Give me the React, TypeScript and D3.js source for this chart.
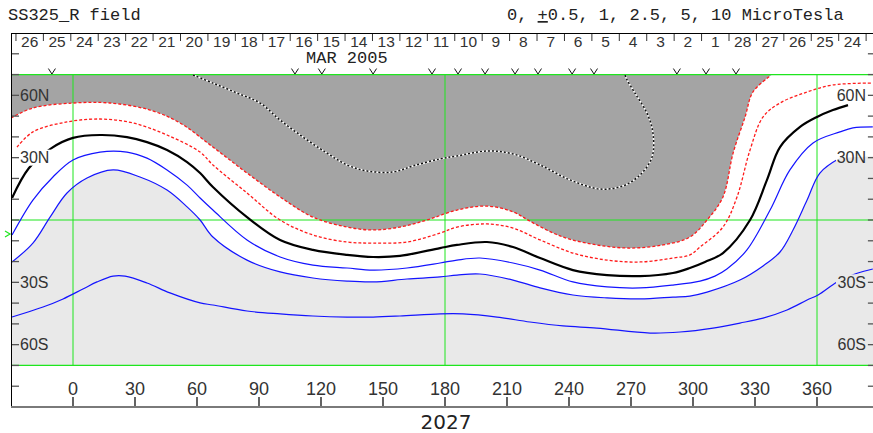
import * as d3 from "d3";

const W = 873;
const H = 433;

// contour lines, [longitude, latitude]
const outerRed: [number, number][] = [
  [-30, 49.1], [-19.4, 53.9], [0, 56.3], [17.9, 56.3], [37.3, 52.9], [51.8, 46.7],
  [67.7, 35.1], [84.2, 22.6], [100.2, 11.1], [116.1, 1.4], [132.6, -3.4], [145.2, -4.8],
  [158.2, -3.4], [171.3, 0], [185.8, 4.8], [200.3, 6.7], [212.9, 3.9], [222.6, -1.4],
  [237.1, -8.2], [253.5, -12.0], [269.5, -13.5], [285.5, -12.0], [298.5, -8.2],
  [306.8, 0], [314.5, 11.1], [319.4, 32.2], [325.2, 49.6], [329.0, 61.6], [337.3, 69.3],
];
const innerRed: [number, number][] = [
  [-27.1, 35.1], [-19.4, 42.4], [-2.9, 47.2], [13.1, 48.6], [29.0, 46.7], [45.5, 40.9],
  [61.5, 32.7], [67.7, 26.5], [84.2, 13.0], [100.2, 0], [116.1, -7.2], [132.6, -10.6],
  [145.2, -11.1], [161.6, -10.6], [177.6, -6.3], [185.8, -3.4], [200.3, -1.9],
  [212.9, -3.9], [226.0, -9.6], [241.9, -15.9], [258.4, -19.3], [274.4, -20.2],
  [290.3, -18.3], [298.5, -16.8], [303.4, -13.0], [314.5, -3.4], [321.3, 11.1],
  [327.6, 33.7], [333.9, 49.6], [342.1, 56.3], [355.2, 61.6], [367.7, 65.0], [387, 65.9],
];
const neutral: [number, number][] = [
  [-29.5, 10.6], [-21.3, 25.0], [-10.2, 34.7], [0, 39.5], [13.1, 40.9], [26.1, 39.9],
  [35.8, 37.5], [45.5, 33.7], [55.2, 27.9], [61.5, 22.6], [67.7, 15.9], [84.2, 1.4],
  [100.2, -9.6], [116.1, -14.4], [132.6, -16.8], [145.2, -17.8], [158.2, -17.3],
  [177.6, -13.5], [185.8, -12.0], [200.3, -10.6], [212.9, -13.0], [226.0, -18.3],
  [241.9, -24.1], [258.4, -26.5], [274.4, -27.0], [290.3, -25.5], [298.5, -23.1],
  [305.8, -20.2], [314.5, -15.9], [327.6, 0], [335.8, 19.3], [342.1, 35.1],
  [351.8, 44.8], [360, 49.6], [367.7, 52.9], [375.0, 55.3],
];
const blue1: [number, number][] = [
  [-29.5, -7.2], [-19.4, 9.6], [-9.7, 20.7], [0, 28.9], [13.1, 32.7], [26.1, 32.7],
  [35.8, 29.8], [45.5, 24.1], [55.2, 16.8], [61.5, 10.6], [67.7, 4.8], [84.2, -9.6],
  [100.2, -17.8], [116.1, -21.7], [132.6, -23.1], [145.2, -24.1], [161.6, -23.1],
  [177.6, -20.7], [185.8, -19.3], [196.9, -18.3], [212.9, -20.7], [226.0, -24.1],
  [241.9, -29.8], [258.4, -32.2], [274.4, -32.7], [290.3, -31.3], [303.4, -29.4],
  [310.6, -27.0], [316.4, -23.6], [326.1, -14.4], [337.3, 4.8], [346.9, 24.1],
  [358.1, 37.1], [371.1, 42.4], [377.4, 44.3], [387, 44.8],
];
const blue2: [number, number][] = [
  [-29.5, -20.2], [-19.4, -11.1], [-11.1, 1.4], [-2.9, 13.0], [6.8, 20.2], [19.4, 24.1],
  [32.4, 20.7], [45.5, 14.4], [55.2, 6.3], [61.5, 0], [67.7, -8.2], [84.2, -19.3],
  [100.2, -25.0], [116.1, -27.9], [132.6, -29.4], [145.2, -29.8], [161.6, -28.4],
  [177.6, -27.4], [185.8, -26.5], [196.9, -26.0], [212.9, -28.9], [226.0, -32.7],
  [241.9, -36.1], [258.4, -37.5], [274.4, -38.0], [290.3, -37.1], [298.5, -36.6],
  [306.8, -34.7], [322.7, -28.9], [333.9, -22.1], [342.1, -15.4], [348.4, -4.8],
  [355.2, 9.6], [361.4, 22.6], [371.1, 29.8],
];
const blue3: [number, number][] = [
  [-29.5, -46.7], [-14.5, -41.9], [-4.8, -38.0], [4.8, -33.2], [11.6, -29.8],
  [19.4, -27.0], [25.2, -27.0], [35.8, -30.3], [46.9, -35.1], [61.5, -39.9],
  [67.7, -40.9], [84.2, -43.8], [100.2, -45.2], [116.1, -46.2], [132.6, -46.7],
  [145.2, -46.7], [158.2, -46.2], [177.6, -45.2], [188.7, -45.2], [205.2, -46.7],
  [221.1, -49.1], [237.1, -51.0], [253.5, -52.0], [279.2, -54.4], [293.7, -53.9],
  [309.7, -52.0], [322.7, -49.6], [333.9, -47.2], [345.5, -43.3], [355.2, -38.5],
  [360.5, -36.1], [369.7, -29.8], [375.0, -27.4], [379.8, -25.5], [387.0, -23.6],
];
const zeroLine: [number, number][] = [
  [58.1, 69.8], [67.7, 65.9], [79.4, 61.1], [90.5, 56.3], [100.2, 48.1], [111.3, 39.9],
  [122.9, 32.2], [132.6, 26.5], [142.3, 23.6], [154.8, 23.1], [164.5, 26.0],
  [177.6, 29.4], [185.8, 30.8], [200.3, 33.2], [212.9, 31.8], [226.0, 26.5],
  [240.5, 19.3], [255.0, 14.9], [266.1, 16.4], [274.4, 21.7], [280.2, 30.3],
  [280.6, 41.9], [277.7, 51.5], [271.9, 61.1], [268.1, 67.4], [267.1, 69.8],
];

const lonTicks = [0, 30, 60, 90, 120, 150, 180, 210, 240, 270, 300, 330, 360];
const latTicks = [-80, -70, -60, -50, -40, -30, -20, -10, 0, 10, 20, 30, 40, 50, 60, 70, 80];
const latLabelValues = [60, 30, -30, -60];
const latLabelText = ["60N", "30N", "30S", "60S"];
const gridLons = [0, 180, 360];
const gridLats = [70, 0, -70];
const dayLabels = [
  "26", "25", "24", "23", "22", "21", "20", "19", "18", "17", "16", "15", "14", "13",
  "12", "11", "10", "9", "8", "7", "6", "5", "4", "3", "2", "1", "28", "27", "26", "25", "24",
];
const firstDayLon = -27.6;
const degPerDay = 13.27;
const footLons = [-10.2, 107.4, 120.4, 145.2, 173.7, 186.3, 199.4, 213.9, 225.0, 241.5, 252.1, 292.2, 306.3, 320.8];
const subEarthLat = -6.7;

const x = d3.scaleLinear().domain([-30, 360]).range([11, 817]);
const y = d3.scaleLinear().domain([90, -90]).range([33, 407]);
const lonMax = 388.5;
const xR = x(lonMax);

const line = d3
  .line<[number, number]>()
  .x((d) => x(d[0]))
  .y((d) => y(d[1]))
  .curve(d3.curveCatmullRom.alpha(0.5));

const sans = "'Liberation Sans', Arial, sans-serif";
const mono = "'Liberation Mono', 'Courier New', monospace";
const green = "#1ee61e";

const App = () => {
  const darkFill =
    line(outerRed) +
    `L${x(outerRed[outerRed.length - 1][0] + 1)},${y(70)}L${x(-30)},${y(70)}Z`;
  const lastB2 = blue2[blue2.length - 1];
  const lightFill =
    line(blue2) +
    `L${xR},${y(lastB2[1] + 1)}L${xR},${y(-70)}L${x(-30)},${y(-70)}L${x(-30)},${y(blue2[0][1])}Z`;

  const labelBoxes = latLabelValues.flatMap((lat) => [
    { x0: 18, x1: 53, y0: y(lat) - 8, y1: y(lat) + 8 },
    { x0: 836, x1: 867, y0: y(lat) - 8, y1: y(lat) + 8 },
  ]);

  return (
    <svg width={W} height={H} style={{ display: "block", position: "absolute", left: 0, top: 0 }}>
      <defs>
        <clipPath id="plot">
          <rect x={11} y={33} width={xR - 11} height={374} />
        </clipPath>
        <mask id="labels" maskUnits="userSpaceOnUse" x={0} y={0} width={W} height={H}>
          <rect x={0} y={0} width={W} height={H} fill="white" />
          {labelBoxes.map((b, i) => (
            <rect key={i} x={b.x0} y={b.y0} width={b.x1 - b.x0} height={b.y1 - b.y0} fill="black" />
          ))}
        </mask>
      </defs>
      <rect width={W} height={H} fill="white" />

      <g clipPath="url(#plot)">
        <path d={lightFill} fill="#e9e9e9" />
        <path d={darkFill} fill="#a4a4a4" />

        {gridLats.map((lat) => (
          <line key={lat} x1={11} x2={xR} y1={y(lat)} y2={y(lat)} stroke={green} strokeWidth={1.2} />
        ))}
        {gridLons.map((lon) => (
          <line key={lon} x1={x(lon)} x2={x(lon)} y1={y(70)} y2={y(-70)} stroke={green} strokeWidth={1} />
        ))}

        <g mask="url(#labels)" fill="none">
          <path d={line(outerRed)!} stroke="#ff1a1a" strokeWidth={1.3} strokeDasharray="3,2" />
          <path d={line(innerRed)!} stroke="#ff1a1a" strokeWidth={1.3} strokeDasharray="3,2" />
          <path d={line(neutral)!} stroke="#000" strokeWidth={2.2} />
          <path d={line(blue1)!} stroke="#1414ff" strokeWidth={1.2} />
          <path d={line(blue2)!} stroke="#1414ff" strokeWidth={1.2} />
          <path d={line(blue3)!} stroke="#1414ff" strokeWidth={1.2} />
          <path d={line(zeroLine)!} stroke="#fff" strokeWidth={1.5} />
          <path d={line(zeroLine)!} stroke="#111" strokeWidth={1.5} strokeDasharray="2,2" />
        </g>
      </g>

      {/* footpoint markers */}
      {footLons.map((lon, i) => (
        <path
          key={i}
          d={`M${x(lon) - 3.5},${y(70) - 6}L${x(lon)},${y(70) - 0.5}L${x(lon) + 3.5},${y(70) - 6}`}
          fill="none"
          stroke="#111"
          strokeWidth={1}
        />
      ))}

      {/* sub-earth latitude marker */}
      <path
        d={`M5,${y(subEarthLat) - 3}L10,${y(subEarthLat)}L5,${y(subEarthLat) + 3}`}
        fill="none"
        stroke={green}
        strokeWidth={1.2}
      />

      {/* frame */}
      <line x1={11} x2={xR} y1={33.5} y2={33.5} stroke="#000" strokeWidth={1} />
      <line x1={11.5} x2={11.5} y1={33} y2={408} stroke="#000" strokeWidth={1} />
      <line x1={11} x2={xR} y1={407} y2={407} stroke="#7a7a7a" strokeWidth={2} />

      {/* latitude ticks */}
      {latTicks.map((lat) => (
        <g key={lat}>
          <line x1={12} x2={19} y1={y(lat)} y2={y(lat)} stroke="#555" strokeWidth={1.3} />
          <line x1={xR - 8} x2={xR} y1={y(lat)} y2={y(lat)} stroke="#555" strokeWidth={1.3} />
        </g>
      ))}
      {latLabelValues.map((lat, i) => (
        <g key={lat} fontFamily={sans} fontSize={16} fill="#333">
          <text x={20} y={y(lat)} dy="0.36em">
            {latLabelText[i]}
          </text>
          <text x={866} y={y(lat)} dy="0.36em" textAnchor="end">
            {latLabelText[i]}
          </text>
        </g>
      ))}

      {/* longitude axis */}
      {lonTicks.map((lon) => (
        <g key={lon}>
          <line x1={x(lon)} x2={x(lon)} y1={397} y2={406} stroke="#222" strokeWidth={1.4} />
          <text x={x(lon)} y={395} textAnchor="middle" fontFamily={sans} fontSize={18} fill="#333">
            {lon}
          </text>
        </g>
      ))}
      <text x={446} y={429} textAnchor="middle" fontFamily="'DejaVu Sans', sans-serif" fontSize={20} fill="#222">
        2027
      </text>

      {/* day axis */}
      {d3.range(dayLabels.length + 1).map((i) => (
        <line
          key={i}
          x1={x(firstDayLon + i * degPerDay)}
          x2={x(firstDayLon + i * degPerDay)}
          y1={34}
          y2={41}
          stroke="#333"
          strokeWidth={1}
        />
      ))}
      {dayLabels.map((d, i) => (
        <text
          key={i}
          x={x(firstDayLon + (i + 0.5) * degPerDay)}
          y={47}
          textAnchor="middle"
          fontFamily={sans}
          fontSize={15.5}
          fill="#333"
        >
          {d}
        </text>
      ))}
      <text x={306} y={63} fontFamily={mono} fontSize={17} fill="#222">
        MAR 2005
      </text>

      {/* headers */}
      <text x={8} y={20} fontFamily={mono} fontSize={17} fill="#222">
        SS325_R field
      </text>
      <text x={507} y={20} fontFamily={mono} fontSize={17} fill="#222" xmlSpace="preserve">
        {"0, "}
        <tspan style={{ textDecoration: "underline" }}>+</tspan>
        {"0.5, 1, 2.5, 5, 10 MicroTesla"}
      </text>
    </svg>
  );
};

export default App;
